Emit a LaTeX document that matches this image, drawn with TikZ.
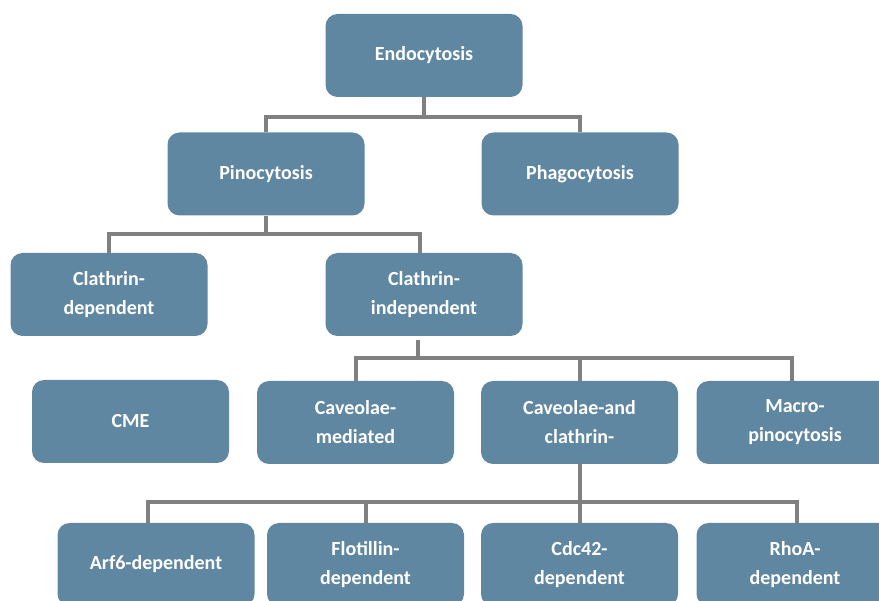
\documentclass[tikz,border=0pt]{standalone}
\usepackage{fontspec}
\setmainfont{Carlito}
\definecolor{boxblue}{HTML}{5F87A1}
\definecolor{conngray}{HTML}{808080}
\tikzset{
  box/.style={draw=none, fill=boxblue, rounded corners=12pt, minimum width=197pt, minimum height=83pt,
    text=white, align=center, inner sep=0pt, font=\fontsize{20}{29}\selectfont\bfseries},
  conn/.style={draw=conngray, line width=4pt}
}
\begin{document}
\begin{tikzpicture}[x=1pt,y=-1pt]
\useasboundingbox (0,0) rectangle (879,601);
\clip (0,0) rectangle (879,601);
\node[box] (endo) at (424,55.5) {Endocytosis};
\node[box] (pino) at (266,174) {Pinocytosis};
\node[box] (phago) at (580,174) {Phagocytosis};
\node[box] (cdep) at (109,294.5) {Clathrin-\\dependent};
\node[box] (cind) at (424,294.5) {Clathrin-\\independent};
\node[box] (cme) at (130.5,421.5) {CME};
\node[box] (cav) at (355.5,422.5) {Caveolae-\\mediated};
\node[box] (cavcl) at (579.5,422.5) {Caveolae-and\\clathrin-};
\node[box] (macro) at (795,422.5) {Macro-\\pinocytosis};
\node[box] (arf) at (156,564.5) {Arf6-dependent};
\node[box] (flot) at (365.5,564.5) {Flotillin-\\dependent};
\node[box] (cdc) at (579.5,564.5) {Cdc42-\\dependent};
\node[box] (rhoa) at (795,564.5) {RhoA-\\dependent};
% connectors
\draw[conn] (endo.south) -- ++(0,20) coordinate (e1);
\draw[conn] ([xshift=-2pt]e1 -| pino.north) -- ([xshift=2pt]e1 -| phago.north);
\draw[conn] (e1 -| pino.north) -- (pino.north);
\draw[conn] (e1 -| phago.north) -- (phago.north);
\draw[conn] (pino.south) -- ++(0,18) coordinate (p1);
\draw[conn] ([xshift=-2pt]p1 -| cdep.north) -- ([xshift=-2pt]p1 -| cind.north);
\draw[conn] (p1 -| cdep.north) -- (cdep.north);
\draw[conn] ([xshift=-4pt]p1 -| cind.north) -- ([xshift=-4pt]cind.north);
\draw[conn] ([xshift=-6pt]cind.south) ++(0,4) -- ++(0,18) coordinate (c1);
\draw[conn] ([xshift=-2pt]c1 -| cav.north) -- ([xshift=-1pt]c1 -| macro.north);
\draw[conn] (c1 -| cav.north) -- (cav.north);
\draw[conn] (c1 -| cavcl.north) -- (cavcl.north);
\draw[conn] ([xshift=-3pt]c1 -| macro.north) -- ([xshift=-3pt]macro.north);
\draw[conn] (cavcl.south) -- ++(0,38) coordinate (k1);
\draw[conn] ([xshift=-10pt]k1 -| arf.north) -- ([xshift=4pt]k1 -| rhoa.north);
\draw[conn] ([xshift=-8pt]k1 -| arf.north) -- ([xshift=-8pt]arf.north);
\draw[conn] (k1 -| flot.north) -- (flot.north);
\draw[conn] (k1 -| cdc.north) -- (cdc.north);
\draw[conn] ([xshift=2pt]k1 -| rhoa.north) -- ([xshift=2pt]rhoa.north);
\end{tikzpicture}
\end{document}
